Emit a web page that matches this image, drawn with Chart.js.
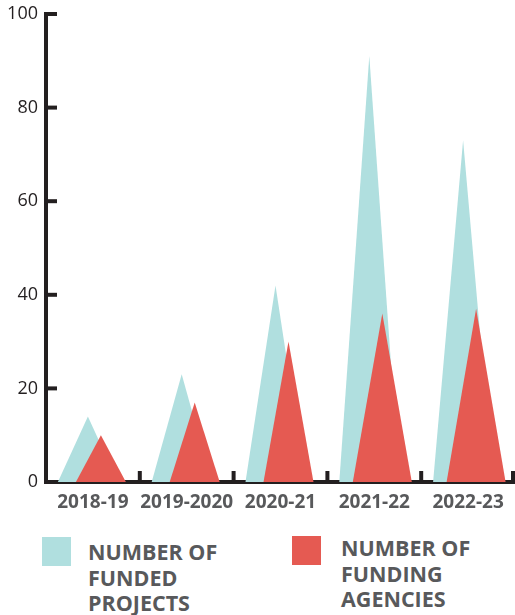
<!DOCTYPE html>
<html>
<head>
<meta charset="utf-8">
<script src="https://cdn.jsdelivr.net/npm/chart.js@4/dist/chart.umd.min.js"></script>
<style>
  html, body { margin: 0; padding: 0; background: #ffffff; overflow: hidden; }
  #wrap { position: relative; width: 515px; height: 615px; }
  #chartBox { position: absolute; left: 0; top: 0; width: 515px; height: 520px; }
  .swatch { position: absolute; width: 29px; height: 29px; }
  .legendText {
    position: absolute; white-space: pre-line;
    font-family: 'Open Sans', sans-serif; font-weight: 700; font-size: 21.5px;
    line-height: 25.5px; color: #58595b;
  }
</style>
</head>
<body>
<div id="wrap">
  <div id="chartBox"><canvas id="chart" width="515" height="520"></canvas></div>
  <div id="legend"></div>
</div>
<script>
// Fiscal years on the category axis
const years = ['2018-19', '2019-2020', '2020-21', '2021-22', '2022-23'];
// Series values
const fundedProjects = [14, 23, 42, 91, 73];
const fundingAgencies = [10, 17, 30, 36, 37];
// Series names (line breaks as set in the legend)
const seriesNames = ['NUMBER OF\nFUNDED\nPROJECTS', 'NUMBER OF\nFUNDING\nAGENCIES'];
// Value axis range
const yMin = 0, yMax = 100, yStep = 20;

const TEAL = '#b0dfdf';
const RED = '#e55a52';
const INK = '#231f20';
const GREY = '#58595b';

// Triangle-shaped bar: same geometry as a bar, drawn as a peak
const BaseBar = Chart.registry.getElement('bar');
const BaseBarController = Chart.registry.getController('bar');

class TriangleBar extends BaseBar {
  draw(ctx) {
    const {x, y, base, width} = this.getProps(['x', 'y', 'base', 'width']);
    const o = this.options;
    const half = width * o.spread / 2;
    const cx = x + o.shift;
    ctx.save();
    ctx.fillStyle = o.backgroundColor;
    ctx.beginPath();
    ctx.moveTo(cx - half, base);
    ctx.lineTo(cx, y);
    ctx.lineTo(cx + half, base);
    ctx.closePath();
    ctx.fill();
    ctx.restore();
  }
}
TriangleBar.id = 'triangleBar';
TriangleBar.defaults = Object.assign({}, BaseBar.defaults, {spread: 1, shift: 0});

class TriangleController extends BaseBarController {}
TriangleController.id = 'triangle';
TriangleController.defaults = Object.assign({}, BaseBarController.defaults, {dataElementType: 'triangleBar'});

Chart.register(TriangleBar, TriangleController);

// Short inward tick marks on both axes
const axisTicks = {
  id: 'axisTicks',
  afterDraw(chart) {
    const ctx = chart.ctx;
    const area = chart.chartArea;
    const ys = chart.scales.y;
    const xs = chart.scales.x;
    ctx.save();
    ctx.strokeStyle = INK;
    ctx.lineWidth = 4;
    ctx.lineCap = 'butt';
    ys.ticks.forEach(t => {
      const py = ys.getPixelForValue(t.value);
      ctx.beginPath();
      ctx.moveTo(area.left - 2, py);
      ctx.lineTo(area.left + 11, py);
      ctx.stroke();
    });
    const n = xs.ticks.length;
    for (let i = 0; i < n; i++) {
      let px = i < n - 1
        ? (xs.getPixelForValue(i) + xs.getPixelForValue(i + 1)) / 2
        : area.right - 2;
      ctx.beginPath();
      ctx.moveTo(px, area.bottom);
      ctx.lineTo(px, area.bottom - 11);
      ctx.stroke();
    }
    ctx.restore();
  }
};

Chart.defaults.font.family = "'Open Sans', sans-serif";

new Chart(document.getElementById('chart'), {
  type: 'triangle',
  data: {
    labels: years,
    datasets: [
      {
        label: seriesNames[0],
        data: fundedProjects,
        backgroundColor: TEAL,
        categoryPercentage: 1,
        barPercentage: 0.64,
        shift: -5,
        order: 2
      },
      {
        label: seriesNames[1],
        data: fundingAgencies,
        backgroundColor: RED,
        categoryPercentage: 1,
        barPercentage: 0.533,
        shift: 8,
        spread: ctx => (ctx.dataIndex >= 3 ? 1.18 : 1),
        order: 1
      }
    ]
  },
  options: {
    responsive: false,
    animation: false,
    layout: { padding: { top: 14, right: 0, bottom: 0, left: 0 } },
    datasets: { triangle: { grouped: false } },
    plugins: { legend: { display: false }, tooltip: { enabled: false } },
    scales: {
      x: {
        grid: { display: false, drawTicks: false },
        border: { display: true, color: INK, width: 4 },
        ticks: {
          color: GREY,
          font: { size: 19, weight: 'bold' },
          padding: 9,
          maxRotation: 0,
          minRotation: 0,
          autoSkip: false
        },
        afterFit: s => { s.height = 38; }
      },
      y: {
        min: yMin,
        max: yMax,
        grid: { display: false, drawTicks: false },
        border: { display: true, color: INK, width: 4 },
        ticks: {
          stepSize: yStep,
          color: INK,
          font: { size: 18 },
          padding: 8
        },
        afterFit: s => { s.width = 46; s.paddingTop = 0; s.paddingBottom = 0; }
      }
    }
  },
  plugins: [axisTicks]
});

// Legend under the chart
const legend = document.getElementById('legend');
const legendSpots = [
  { color: TEAL, sx: 42, sy: 537, tx: 88, ty: 539 },
  { color: RED, sx: 292, sy: 536, tx: 341, ty: 535 }
];
seriesNames.forEach((name, i) => {
  const p = legendSpots[i];
  const sw = document.createElement('div');
  sw.className = 'swatch';
  sw.style.left = p.sx + 'px';
  sw.style.top = p.sy + 'px';
  sw.style.background = p.color;
  legend.appendChild(sw);
  const tx = document.createElement('div');
  tx.className = 'legendText';
  tx.style.left = p.tx + 'px';
  tx.style.top = p.ty + 'px';
  tx.textContent = name;
  legend.appendChild(tx);
});
</script>
</body>
</html>
